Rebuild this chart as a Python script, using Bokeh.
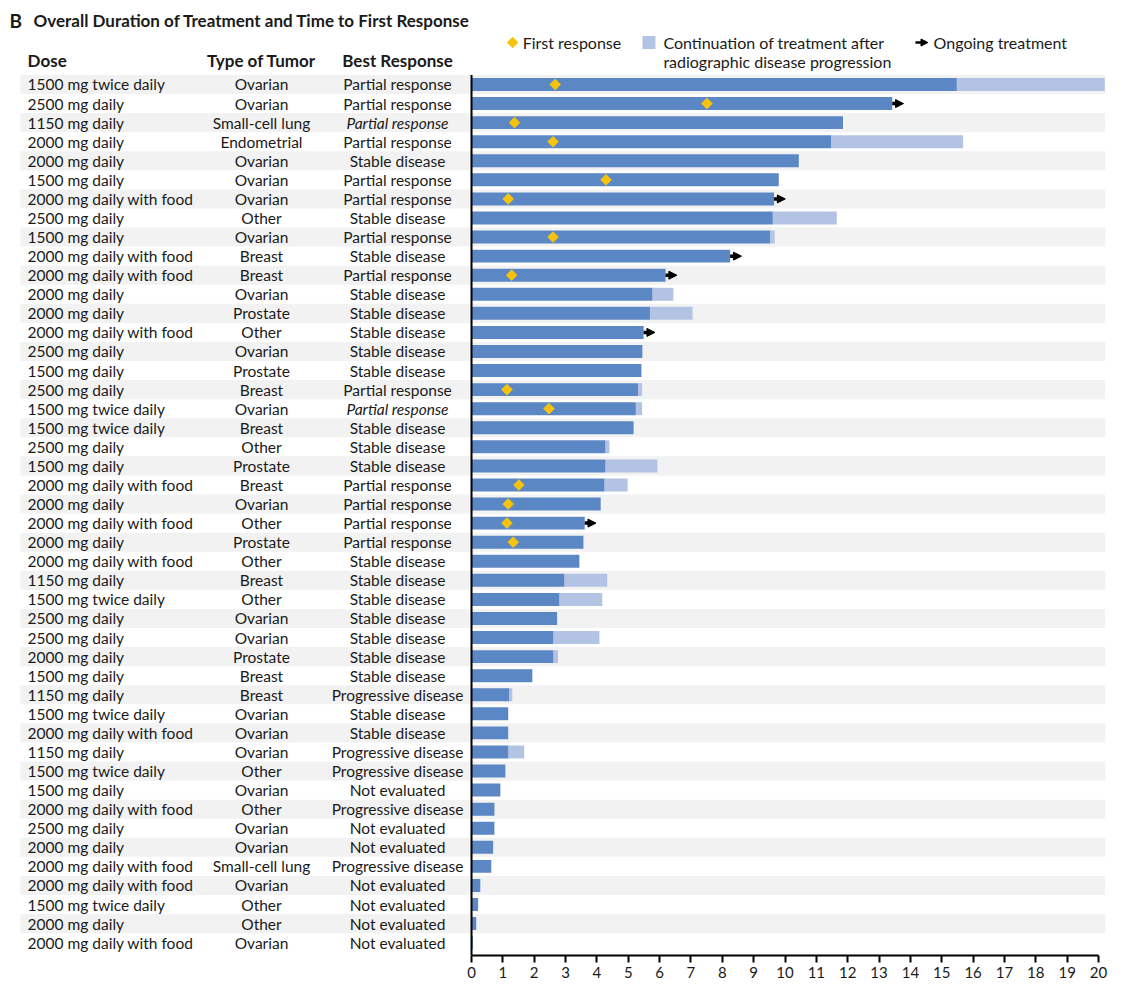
import math
from bokeh.plotting import figure
from bokeh.models import ColumnDataSource, Range1d, LinearAxis, FixedTicker, Arrow, NormalHead
from bokeh.core.properties import value
from bokeh.embed import file_html
from bokeh.resources import INLINE

# ---------------- data ----------------
dose = [
    "1500 mg twice daily", "2500 mg daily", "1150 mg daily", "2000 mg daily", "2000 mg daily",
    "1500 mg daily", "2000 mg daily with food", "2500 mg daily", "1500 mg daily", "2000 mg daily with food",
    "2000 mg daily with food", "2000 mg daily", "2000 mg daily", "2000 mg daily with food", "2500 mg daily",
    "1500 mg daily", "2500 mg daily", "1500 mg twice daily", "1500 mg twice daily", "2500 mg daily",
    "1500 mg daily", "2000 mg daily with food", "2000 mg daily", "2000 mg daily with food", "2000 mg daily",
    "2000 mg daily with food", "1150 mg daily", "1500 mg twice daily", "2500 mg daily", "2500 mg daily",
    "2000 mg daily", "1500 mg daily", "1150 mg daily", "1500 mg twice daily", "2000 mg daily with food",
    "1150 mg daily", "1500 mg twice daily", "1500 mg daily", "2000 mg daily with food", "2500 mg daily",
    "2000 mg daily", "2000 mg daily with food", "2000 mg daily with food", "1500 mg twice daily", "2000 mg daily",
    "2000 mg daily with food",
]
tumor = [
    "Ovarian", "Ovarian", "Small-cell lung", "Endometrial", "Ovarian",
    "Ovarian", "Ovarian", "Other", "Ovarian", "Breast",
    "Breast", "Ovarian", "Prostate", "Other", "Ovarian",
    "Prostate", "Breast", "Ovarian", "Breast", "Other",
    "Prostate", "Breast", "Ovarian", "Other", "Prostate",
    "Other", "Breast", "Other", "Ovarian", "Ovarian",
    "Prostate", "Breast", "Breast", "Ovarian", "Ovarian",
    "Ovarian", "Other", "Ovarian", "Other", "Ovarian",
    "Ovarian", "Small-cell lung", "Ovarian", "Other", "Other",
    "Ovarian",
]
response = [
    "Partial response", "Partial response", "Partial response", "Partial response", "Stable disease",
    "Partial response", "Partial response", "Stable disease", "Partial response", "Stable disease",
    "Partial response", "Stable disease", "Stable disease", "Stable disease", "Stable disease",
    "Stable disease", "Partial response", "Partial response", "Stable disease", "Stable disease",
    "Stable disease", "Partial response", "Partial response", "Partial response", "Partial response",
    "Stable disease", "Stable disease", "Stable disease", "Stable disease", "Stable disease",
    "Stable disease", "Stable disease", "Progressive disease", "Stable disease", "Stable disease",
    "Progressive disease", "Progressive disease", "Not evaluated", "Progressive disease", "Not evaluated",
    "Not evaluated", "Progressive disease", "Not evaluated", "Not evaluated", "Not evaluated",
    "Not evaluated",
]
response_italic_rows = [3, 18]

# months of treatment before progression (dark bar end)
duration = [
    15.48, 13.42, 11.85, 11.47, 10.44, 9.80, 9.65, 9.61, 9.52, 8.25,
    6.19, 5.77, 5.69, 5.49, 5.45, 5.42, 5.31, 5.24, 5.17, 4.27,
    4.27, 4.24, 4.12, 3.61, 3.57, 3.44, 2.96, 2.80, 2.73, 2.61,
    2.61, 1.94, 1.20, 1.17, 1.17, 1.17, 1.08, 0.92, 0.73, 0.73,
    0.69, 0.63, 0.28, 0.21, 0.15, 0.04,
]
# continuation of treatment after radiographic progression: row -> end month
cont_rows = [1, 4, 8, 9, 12, 13, 17, 18, 20, 21, 22, 27, 28, 30, 31, 33, 36]
cont_end = [20.2, 15.68, 11.65, 9.67, 6.44, 7.05, 5.44, 5.44, 4.40, 5.93, 4.98, 4.33, 4.17, 4.08, 2.76, 1.30, 1.68]

# first response: row -> month
fr_rows = [1, 2, 3, 4, 6, 7, 9, 11, 17, 18, 22, 23, 24, 25]
fr_month = [2.67, 7.51, 1.37, 2.60, 4.29, 1.17, 2.60, 1.28, 1.13, 2.47, 1.51, 1.17, 1.13, 1.33]

# ongoing treatment rows
ongoing_rows = [2, 7, 10, 11, 14, 24]

x_ticks = list(range(0, 21))

# ---------------- styling constants ----------------
DARK = "#5b87c5"
LIGHT = "#b3c3e3"
BAND = "#f2f2f2"
GOLD = "#f5c30c"
TXT = "#1a1a1a"
FONT = "Lato"

rows = list(range(1, len(dose) + 1))
X0, X1 = -14.77, 20.223
BAND_LEFT = -14.386
Y_BOTTOM, Y_TOP = 46.673, -2.985

p = figure(frame_width=1097, frame_height=947,
           x_range=Range1d(X0, X1), y_range=Range1d(Y_BOTTOM, Y_TOP),
           output_backend="svg", toolbar_location=None,
           x_axis_location=None, y_axis_location=None,
           min_border_left=8, min_border_right=12, min_border_top=8, min_border_bottom=30)
p.outline_line_color = None
p.grid.visible = False
p.background_fill_color = "white"

# alternating row bands
band_rows = [r for r in rows if r % 2 == 1]
p.hbar(y=band_rows, left=BAND_LEFT, right=X1, height=1.0, fill_color=BAND, line_color=None)

# continuation bars (light)
cont_left = [duration[r - 1] for r in cont_rows]
p.hbar(y=cont_rows, left=cont_left, right=cont_end, height=0.68, fill_color=LIGHT, line_color=None)

# main bars (dark)
p.hbar(y=rows, left=0, right=duration, height=0.68, fill_color=DARK, line_color=None)

# ongoing arrows
arr_src = ColumnDataSource(dict(
    x0=[duration[r - 1] for r in ongoing_rows],
    x1=[duration[r - 1] + 0.36 for r in ongoing_rows],
    y=ongoing_rows))
p.add_layout(Arrow(end=NormalHead(size=8, fill_color="black", line_color="black", line_width=1),
                   x_start="x0", y_start="y", x_end="x1", y_end="y",
                   source=arr_src, line_color="black", line_width=3.5))

# first response diamonds (square turned 45 degrees)
p.scatter(x=fr_month, y=fr_rows, marker="square", angle=math.pi / 4, size=7.5,
          fill_color=GOLD, line_color=GOLD, line_width=1)

# vertical axis line at 0
p.segment(x0=[0], y0=[0.5], x1=[0], y1=[Y_BOTTOM], line_color="black", line_width=2)

# table text
tsrc = ColumnDataSource(dict(
    y=rows, dose=dose, tumor=tumor, response=response,
    style=["italic" if r in response_italic_rows else "normal" for r in rows]))
common = dict(text_font=value(FONT), text_font_size="15.5px", text_baseline="middle", text_color=TXT)
p.text(x=-14.16, y="y", text="dose", source=tsrc, text_align="left", **common)
p.text(x=-6.70, y="y", text="tumor", source=tsrc, text_align="center", **common)
p.text(x=-2.36, y="y", text="response", source=tsrc, text_align="center",
       text_font_style="style", **common)

# headers
hdr = dict(text_font=value(FONT), text_font_size="17px", text_font_style="bold",
           text_baseline="middle", text_color=TXT)
p.text(x=[-14.16], y=[-0.26], text=["Dose"], text_align="left", **hdr)
p.text(x=[-6.70], y=[-0.26], text=["Type of Tumor"], text_align="center", **hdr)
p.text(x=[-2.36], y=[-0.26], text=["Best Response"], text_align="center", **hdr)

# title
p.text(x=[-14.74], y=[-2.36], text=["B"], text_align="left", text_font=value(FONT),
       text_font_size="19px", text_font_style="bold", text_baseline="middle", text_color=TXT)
p.text(x=[-13.97], y=[-2.36], text=["Overall Duration of Treatment and Time to First Response"],
       text_align="left", text_font=value(FONT), text_font_size="17px", text_font_style="bold",
       text_baseline="middle", text_color=TXT)

# legend
leg = dict(text_font=value(FONT), text_font_size="16px", text_baseline="middle",
           text_align="left", text_color=TXT)
p.scatter(x=[1.31], y=[-1.2], marker="square", angle=math.pi / 4, size=7.5,
          fill_color=GOLD, line_color=GOLD, line_width=1)
p.text(x=[1.63], y=[-1.2], text=["First response"], **leg)
p.scatter(x=[5.66], y=[-1.2], marker="square", size=13, fill_color=LIGHT, line_color=None)
p.text(x=[6.12], y=[-1.2], text=["Continuation of treatment after"], **leg)
p.text(x=[6.12], y=[-0.2], text=["radiographic disease progression"], **leg)
leg_arr = ColumnDataSource(dict(x0=[14.16], x1=[14.56], y=[-1.2]))
p.add_layout(Arrow(end=NormalHead(size=7, fill_color="black", line_color="black", line_width=1),
                   x_start="x0", y_start="y", x_end="x1", y_end="y",
                   source=leg_arr, line_color="black", line_width=2.5))
p.text(x=[14.74], y=[-1.2], text=["Ongoing treatment"], **leg)

# bottom axis
xa = LinearAxis(bounds=(0, 20), ticker=FixedTicker(ticks=x_ticks))
xa.axis_line_width = 2
xa.axis_line_color = "black"
xa.major_tick_line_width = 2
xa.major_tick_line_color = "black"
xa.major_tick_in = 0
xa.major_tick_out = 7
xa.minor_tick_line_color = None
xa.major_label_text_font = FONT
xa.major_label_text_font_size = "15px"
xa.major_label_text_color = TXT
xa.major_label_standoff = 4
p.add_layout(xa, "below")

open("out.html", "w").write(file_html(p, INLINE))
